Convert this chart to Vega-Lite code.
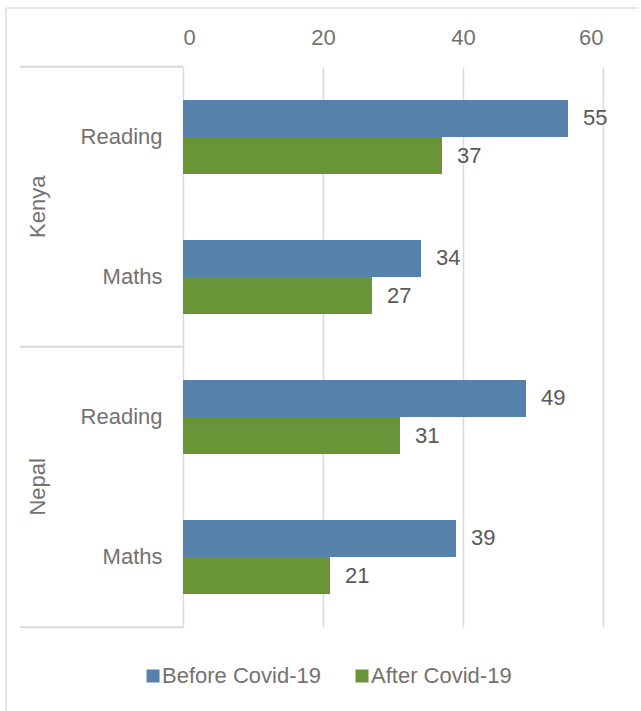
{
  "$schema": "https://vega.github.io/schema/vega-lite/v6.json",
  "width": 420,
  "height": 560,
  "autosize": {"type": "none"},
  "padding": {"top": 67, "left": 183, "right": 38, "bottom": 84},
  "background": "white",
  "config": {
    "font": "Liberation Sans",
    "view": {"stroke": null},
    "axis": {"labelFont": "Liberation Sans", "labelFontSize": 22, "labelColor": "#767171"},
    "legend": {"labelFont": "Liberation Sans", "labelFontSize": 22, "labelColor": "#767171"}
  },
  "data": {
    "values": [
      {"country": "Kenya", "subject": "Reading", "row": "Kenya Reading", "series": "Before Covid-19", "value": 55},
      {"country": "Kenya", "subject": "Reading", "row": "Kenya Reading", "series": "After Covid-19", "value": 37},
      {"country": "Kenya", "subject": "Maths", "row": "Kenya Maths", "series": "Before Covid-19", "value": 34},
      {"country": "Kenya", "subject": "Maths", "row": "Kenya Maths", "series": "After Covid-19", "value": 27},
      {"country": "Nepal", "subject": "Reading", "row": "Nepal Reading", "series": "Before Covid-19", "value": 49},
      {"country": "Nepal", "subject": "Reading", "row": "Nepal Reading", "series": "After Covid-19", "value": 31},
      {"country": "Nepal", "subject": "Maths", "row": "Nepal Maths", "series": "Before Covid-19", "value": 39},
      {"country": "Nepal", "subject": "Maths", "row": "Nepal Maths", "series": "After Covid-19", "value": 21}
    ]
  },
  "layer": [
    {
      "mark": {"type": "bar"},
      "encoding": {
        "y": {
          "field": "row", "type": "nominal",
          "scale": {"domain": ["Kenya Reading", "Kenya Maths", "Nepal Reading", "Nepal Maths"], "paddingInner": 0.47, "paddingOuter": 0.235},
          "axis": {"title": null, "ticks": false, "domain": false, "grid": false, "labelPadding": 21, "labelExpr": "split(datum.label, ' ')[1]"}
        },
        "yOffset": {"field": "series", "type": "nominal", "scale": {"domain": ["Before Covid-19", "After Covid-19"], "paddingInner": 0, "paddingOuter": 0}},
        "x": {
          "field": "value", "type": "quantitative",
          "scale": {"domain": [0, 60], "nice": false},
          "axis": {"orient": "top", "title": null, "values": [0, 20, 40, 60], "ticks": false, "domain": false, "grid": true, "labelPadding": 18, "gridColor": "#d9d9d9", "gridWidth": 1.5}
        },
        "color": {
          "field": "series", "type": "nominal",
          "scale": {"domain": ["Before Covid-19", "After Covid-19"], "range": ["#5681ab", "#6a9438"]},
          "legend": {"title": null, "orient": "none", "direction": "horizontal", "legendX": -41, "legendY": 598, "symbolType": "square", "symbolSize": 169, "symbolStrokeWidth": 0, "labelOffset": -2, "columnPadding": 30}
        }
      }
    },
    {
      "mark": {"type": "text", "align": "left", "baseline": "middle", "dx": 15, "fontSize": 22, "color": "#595959"},
      "encoding": {
        "y": {"field": "row", "type": "nominal"},
        "yOffset": {"field": "series", "type": "nominal"},
        "x": {"field": "value", "type": "quantitative"},
        "text": {"field": "value", "type": "quantitative"}
      }
    },
    {
      "data": {"values": [{"row": "Kenya Reading"}, {"row": "Nepal Reading"}]},
      "mark": {"type": "rule", "color": "#d9d9d9", "strokeWidth": 2},
      "encoding": {
        "y": {"field": "row", "type": "nominal", "bandPosition": -0.446},
        "x": {"datum": -23.3},
        "x2": {"datum": 0}
      }
    },
    {
      "data": {"values": [{"row": "Nepal Maths"}]},
      "mark": {"type": "rule", "color": "#d9d9d9", "strokeWidth": 2},
      "encoding": {
        "y": {"field": "row", "type": "nominal", "bandPosition": 1.446},
        "x": {"datum": -23.3},
        "x2": {"datum": 0}
      }
    },
    {
      "data": {"values": [{"country": "Kenya", "row": "Kenya Maths"}, {"country": "Nepal", "row": "Nepal Maths"}]},
      "mark": {"type": "text", "angle": 270, "align": "center", "baseline": "middle", "fontSize": 22, "color": "#767171"},
      "encoding": {
        "y": {"field": "row", "type": "nominal", "bandPosition": -0.446},
        "x": {"datum": -20.7},
        "text": {"field": "country"}
      }
    },
    {
      "data": {"values": [{"row": "Kenya Reading"}]},
      "mark": {"type": "rule", "color": "#dedede", "strokeWidth": 1.5},
      "encoding": {
        "y": {"field": "row", "type": "nominal", "bandPosition": -1.239},
        "x": {"datum": -25.3},
        "x2": {"datum": 65}
      }
    },
    {
      "data": {"values": [{"row": "Kenya Reading", "end": "Nepal Maths"}]},
      "mark": {"type": "rule", "color": "#dedede", "strokeWidth": 1.5},
      "encoding": {
        "y": {"field": "row", "type": "nominal", "bandPosition": -1.239},
        "y2": {"field": "end", "bandPosition": 3},
        "x": {"datum": -25.3}
      }
    }
  ]
}
